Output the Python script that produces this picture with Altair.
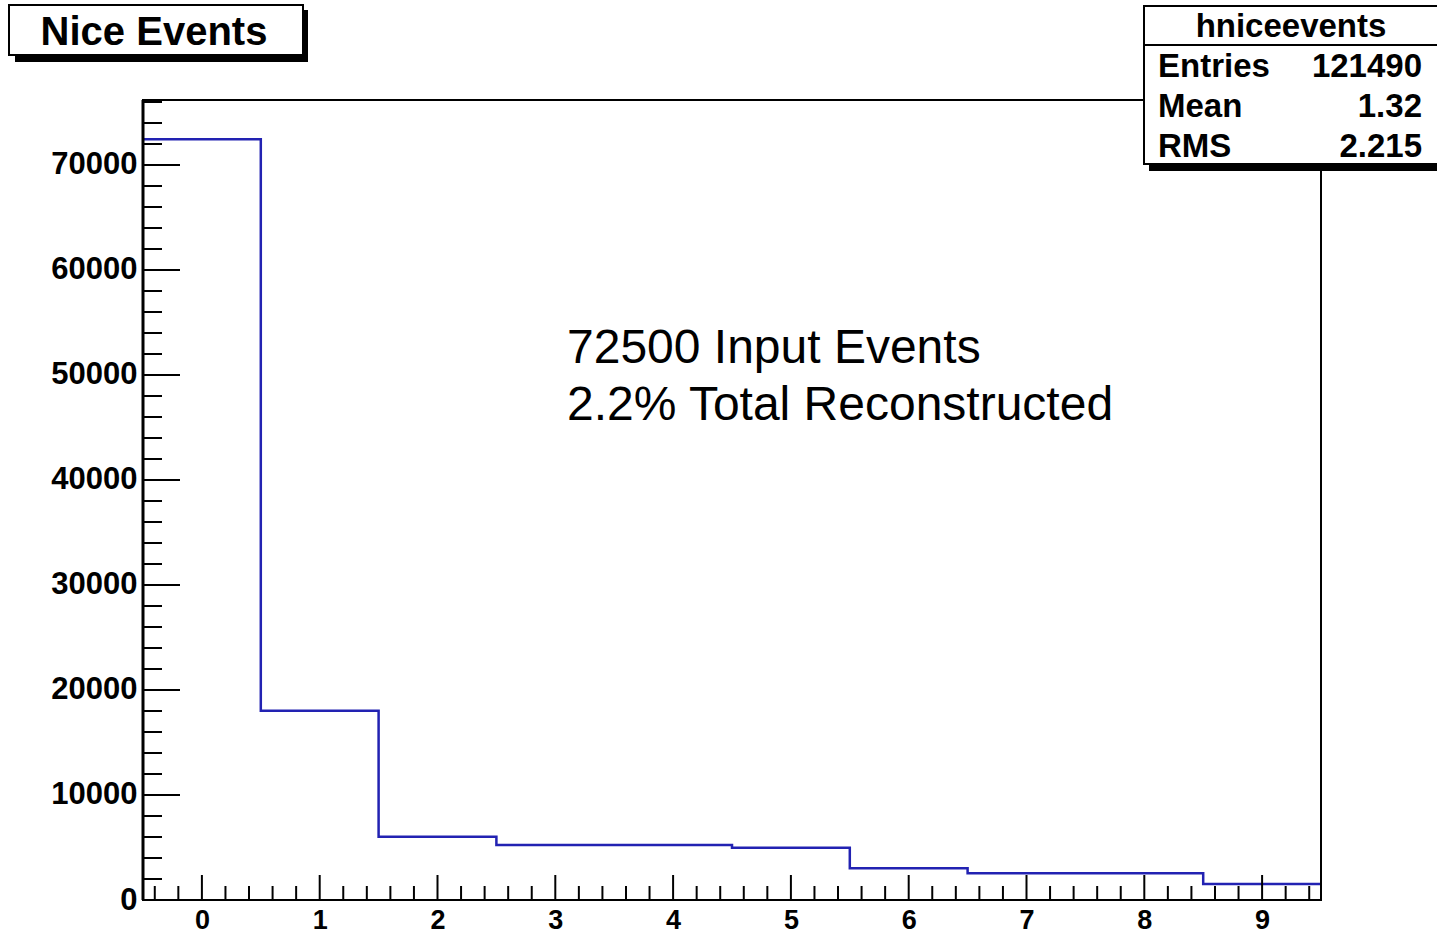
import altair as alt
import numpy as np
import pandas as pd

# ---- data ----
bin_lower = [-0.5, 0.5, 1.5, 2.5, 3.5, 4.5, 5.5, 6.5, 7.5, 8.5]
counts = [72450, 18030, 6030, 5240, 5240, 4980, 3020, 2540, 2540, 1520]
x_major = [0, 1, 2, 3, 4, 5, 6, 7, 8, 9]
y_major = [0, 10000, 20000, 30000, 40000, 50000, 60000, 70000]
stat_names = ["Entries", "Mean", "RMS"]
stat_values = ["121490", "1.32", "2.215"]
hist_name = "hniceevents"
title_text = "Nice Events"
note_lines = ["72500 Input Events", "2.2% Total Reconstructed"]

XMIN, XMAX = -0.5, 9.5
YMAX = 76190
W, H = 1178, 800
FONT = "Liberation Sans"

xs = alt.Scale(domain=[XMIN, XMAX], nice=False, zero=False)
ys = alt.Scale(domain=[0, YMAX], nice=False, zero=True)

xaxis = alt.Axis(
    values=x_major, title=None, ticks=False, domain=False, grid=False,
    labelFont=FONT, labelFontSize=27, labelFontWeight="bold",
    labelColor="black", labelPadding=7, labelFlush=False)
yaxis = alt.Axis(
    values=y_major, title=None, ticks=False, domain=False, grid=False,
    labelFont=FONT, labelFontSize=31, labelFontWeight="bold",
    labelColor="black", labelPadding=6, format="d")

step_df = pd.DataFrame({"x": bin_lower + [XMAX], "y": counts + [counts[-1]]})

hist = alt.Chart(step_df).mark_line(
    interpolate="step-after", color="#2222b2", strokeWidth=2.5
).encode(
    x=alt.X("x:Q", scale=xs, axis=xaxis),
    y=alt.Y("y:Q", scale=ys, axis=yaxis),
)

# ticks (drawn inside the frame, ROOT style)
xminor = pd.DataFrame({"x": np.round(np.arange(-0.4, 9.41, 0.2), 2)})
frac = np.abs(xminor["x"] - np.round(xminor["x"]))
xminor = xminor[frac > 0.05]
xmaj_df = pd.DataFrame({"x": x_major})
yminor = pd.DataFrame({"y": np.arange(0, YMAX, 2000)})
ymaj_df = pd.DataFrame({"y": y_major})

tick_x_minor = alt.Chart(xminor).mark_rule(color="black", strokeWidth=2).encode(
    x=alt.X("x:Q", scale=xs, axis=xaxis), y=alt.value(H), y2=alt.value(H - 14))
tick_x_major = alt.Chart(xmaj_df).mark_rule(color="black", strokeWidth=2).encode(
    x=alt.X("x:Q", scale=xs, axis=xaxis), y=alt.value(H), y2=alt.value(H - 25))
tick_y_minor = alt.Chart(yminor).mark_rule(color="black", strokeWidth=2).encode(
    y=alt.Y("y:Q", scale=ys, axis=yaxis), x=alt.value(0), x2=alt.value(19))
tick_y_major = alt.Chart(ymaj_df).mark_rule(color="black", strokeWidth=2).encode(
    y=alt.Y("y:Q", scale=ys, axis=yaxis), x=alt.value(0), x2=alt.value(37))

dummy = pd.DataFrame({"d": [0]})


def box(x1, y1, x2, y2, fill, stroke=None, sw=0):
    kw = dict(fill=fill)
    if stroke:
        kw.update(stroke=stroke, strokeWidth=sw)
    return alt.Chart(dummy).mark_rect(**kw).encode(
        x=alt.value(x1), x2=alt.value(x2), y=alt.value(y1), y2=alt.value(y2))


def label(txt, x, y, size, weight="normal", align="left"):
    return alt.Chart(dummy).mark_text(
        text=txt, font=FONT, fontSize=size, fontWeight=weight, align=align,
        baseline="alphabetic", color="black"
    ).encode(x=alt.value(x), y=alt.value(y))


# frame
frame = box(0, 0, W, H, "transparent", "black", 2)
left_edge = alt.Chart(dummy).mark_rule(color="black", strokeWidth=3).encode(
    x=alt.value(0), y=alt.value(0), y2=alt.value(H))

# title box
title_layers = [
    box(-128, -90, 165, -38, "black"),
    box(-134, -95, 160, -45, "white", "black", 2),
    label(title_text, 11, -55, 40, "bold", "center"),
]

# stats box
stats_layers = [
    box(1006, -89, 1310, 71, "black"),
    box(1001, -94, 1305, 64, "white", "black", 2),
    alt.Chart(dummy).mark_rule(color="black", strokeWidth=2).encode(
        x=alt.value(1001), x2=alt.value(1305), y=alt.value(-55)),
    label(hist_name, 1148, -63, 33, "bold", "center"),
]
for i, (n, v) in enumerate(zip(stat_names, stat_values)):
    yb = -23 + 40 * i
    stats_layers.append(label(n, 1015, yb, 33, "bold", "left"))
    stats_layers.append(label(v, 1279, yb, 33, "bold", "right"))

notes = [label(t, 424, 263 + 57 * i, 48) for i, t in enumerate(note_lines)]

chart = alt.layer(
    hist, tick_y_minor, tick_y_major, tick_x_minor, tick_x_major, frame,
    left_edge, *title_layers, *stats_layers, *notes
).properties(
    width=W, height=H,
    autosize=alt.AutoSizeParams(type="none"),
    padding={"left": 143, "top": 100, "right": 116, "bottom": 37},
    background="white",
).configure_view(stroke=None)

chart.save("out.html", embed_options={"renderer": "svg", "actions": False})
